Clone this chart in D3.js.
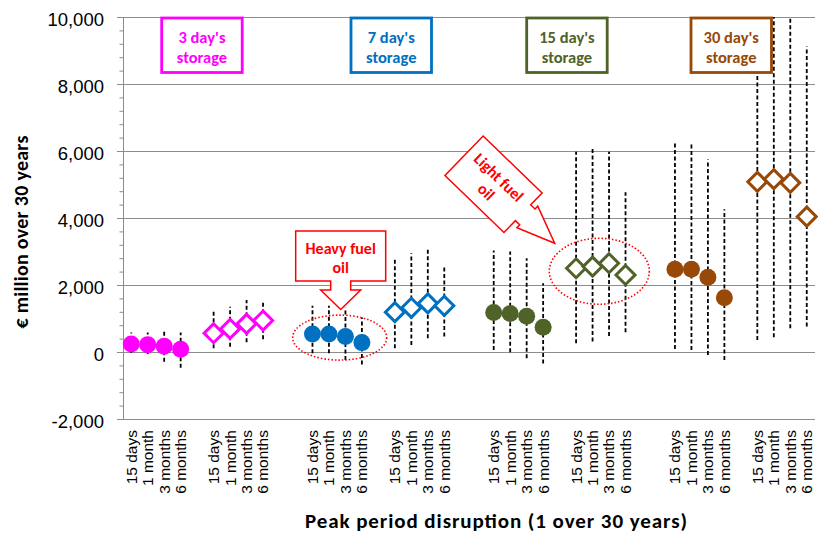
<!DOCTYPE html>
<html>
<head>
<meta charset="utf-8">
<script src="https://cdn.jsdelivr.net/npm/d3@7"></script>
<style>
  body { margin: 0; background: #fff; }
  svg { display: block; font-family: Carlito, Calibri, Lato, sans-serif; }
  .axis text { fill: #000; }
</style>
</head>
<body>
<svg id="chart"></svg>
<script>
// categories as laid out on the original axis (blank slots separate groups)
const categories = [
  "15 days", "1 month", "3 months", "6 months", "",
  "15 days", "1 month", "3 months", "6 months", "", "",
  "15 days", "1 month", "3 months", "6 months", "",
  "15 days", "1 month", "3 months", "6 months", "", "",
  "15 days", "1 month", "3 months", "6 months", "",
  "15 days", "1 month", "3 months", "6 months", "", "",
  "15 days", "1 month", "3 months", "6 months", "",
  "15 days", "1 month", "3 months", "6 months",
];

// one entry per group of four points
const storageDays = ["3", "3", "7", "7", "15", "15", "30", "30"];
const fuelTypes = ["heavy", "light", "heavy", "light", "heavy", "light", "heavy", "light"];

// central estimate, € million over 30 years (non-blank categories in order)
const centralValues = [
  240, 220, 170, 80,
  560, 690, 840, 940,
  540, 540, 460, 280,
  1190, 1320, 1450, 1380,
  1180, 1150, 1070, 740,
  2500, 2550, 2650, 2300,
  2470, 2470, 2230, 1620,
  5080, 5160, 5050, 4040,
];
const lowValues = [
  -30, -60, -290, -470,
  110, 160, 290, 380,
  -40, -40, -240, -370,
  110, 210, 410, 460,
  60, -10, -190, -340,
  260, 310, 480, 590,
  90, 60, -90, -240,
  360, 440, 710, 760,
];
const highValues = [
  580, 580, 630, 580,
  1250, 1350, 1550, 1480,
  1380, 1380, 1320, 1030,
  2830, 2950, 3050, 2580,
  3030, 3000, 2800, 2050,
  5980, 6110, 5980, 4770,
  6230, 6230, 5750, 4260,
  10500, 10500, 10500, 9120,
];

const yTicks = [-2000, 0, 2000, 4000, 6000, 8000, 10000];
const storageLabels = ["3 day's", "7 day's", "15 day's", "30 day's"];
const storageColors = { "3": "#FF00FF", "7": "#0070C0", "15": "#4F6228", "30": "#984807" };

// Graph Dimensions
const totalWidth = 818;
const totalHeight = 539;
const margin = { top: 17, right: 3, bottom: 120, left: 123 };
const graphWidth = totalWidth - margin.left - margin.right;
const graphHeight = totalHeight - margin.top - margin.bottom;

// pair each value with its slot on the category axis
const slots = categories.map((c, i) => i).filter((i) => categories[i] !== "");
const points = slots.map((slot, k) => ({
  slot,
  group: Math.floor(k / 4),
  value: centralValues[k],
  low: lowValues[k],
  high: highValues[k],
}));

const xScale = d3.scaleBand().domain(d3.range(categories.length)).range([0, graphWidth]);
const yScale = d3.scaleLinear().domain([yTicks[0], yTicks[yTicks.length - 1]]).range([graphHeight, 0]);
const cx = (slot) => xScale(slot) + xScale.bandwidth() / 2;
const groupCenter = (g) => (cx(slots[g * 4]) + cx(slots[g * 4 + 3])) / 2;
const numFormat = d3.format(",");

const svg = d3.select("#chart").attr("width", totalWidth).attr("height", totalHeight);
const g = svg.append("g").attr("transform", `translate(${margin.left},${margin.top})`);

g.append("defs").append("clipPath").attr("id", "plotClip")
  .append("rect").attr("width", graphWidth).attr("height", graphHeight);

// gridlines
g.append("g")
  .call(d3.axisLeft(yScale).tickValues(yTicks).tickSize(-graphWidth).tickFormat(""))
  .call((s) => s.select(".domain").remove())
  .selectAll("line").attr("stroke", "#8c8c8c");

// minor ticks
g.append("g")
  .call(d3.axisLeft(yScale).tickValues(d3.range(yTicks[0], yTicks[yTicks.length - 1], 400)).tickSize(3.5).tickFormat(""))
  .call((s) => s.select(".domain").remove())
  .selectAll("line").attr("stroke", "#8c8c8c");

// y axis
g.append("g")
  .attr("class", "axis")
  .call(d3.axisLeft(yScale).tickValues(yTicks).tickSize(6).tickPadding(13)
    .tickFormat((d) => numFormat(d).replace("\u2212", "-")))
  .call((s) => s.select(".domain").attr("stroke", "#8c8c8c"))
  .call((s) => s.selectAll("line").attr("stroke", "#8c8c8c"))
  .selectAll("text").attr("font-size", 18.5).attr("dy", "0.45em");

// category axis
g.append("g")
  .attr("class", "axis")
  .attr("transform", `translate(0,${graphHeight})`)
  .call(d3.axisBottom(xScale).tickSize(0).tickFormat((i) => categories[i]))
  .call((s) => s.select(".domain").remove())
  .selectAll("text")
  .attr("font-size", 15.5)
  .attr("transform", "rotate(-90)")
  .attr("text-anchor", "end")
  .attr("x", -11)
  .attr("y", 0)
  .attr("dy", "0.35em");

// axis titles
svg.append("text")
  .attr("x", 496).attr("y", 528)
  .attr("text-anchor", "middle").attr("font-weight", "bold").attr("font-size", 21)
  .attr("textLength", 382).attr("lengthAdjust", "spacing")
  .text("Peak period disruption (1 over 30 years)");
svg.append("text")
  .attr("transform", `translate(28,232) rotate(-90)`)
  .attr("text-anchor", "middle").attr("font-weight", "bold").attr("font-size", 20)
  .attr("textLength", 193).attr("lengthAdjust", "spacing")
  .text("€ million over 30 years");

// error bars
g.append("g").attr("clip-path", "url(#plotClip)")
  .selectAll("line").data(points).enter().append("line")
  .attr("x1", (d) => cx(d.slot)).attr("x2", (d) => cx(d.slot))
  .attr("y1", (d) => yScale(d.low)).attr("y2", (d) => yScale(d.high))
  .attr("stroke", "#000").attr("stroke-width", 1.8).attr("stroke-dasharray", "4,2.5");

// markers
const markers = g.append("g");
markers.selectAll("circle").data(points.filter((d) => fuelTypes[d.group] === "heavy"))
  .enter().append("circle")
  .attr("cx", (d) => cx(d.slot)).attr("cy", (d) => yScale(d.value)).attr("r", 8.5)
  .attr("fill", (d) => storageColors[storageDays[d.group]]);
const dia = 9.5;
markers.selectAll("path").data(points.filter((d) => fuelTypes[d.group] === "light"))
  .enter().append("path")
  .attr("d", `M0,${-dia}L${dia},0L0,${dia}L${-dia},0Z`)
  .attr("transform", (d) => `translate(${cx(d.slot)},${yScale(d.value)})`)
  .attr("fill", "#fff").attr("stroke-width", 3)
  .attr("stroke", (d) => storageColors[storageDays[d.group]]);

// storage boxes
const boxLeft = [38.7, 228, 403.7, 568];
const boxes = g.append("g");
storageLabels.forEach((label, i) => {
  const color = storageColors[storageDays[i * 2]];
  const b = boxes.append("g").attr("transform", `translate(${boxLeft[i]},1)`);
  b.append("rect").attr("width", 80.5).attr("height", 54.5)
    .attr("fill", "#fff").attr("stroke", color).attr("stroke-width", 2.8);
  b.append("text").attr("x", 40.25).attr("y", 24.5).attr("text-anchor", "middle")
    .attr("font-size", 16.5).attr("font-weight", "bold").attr("fill", color).text(label);
  b.append("text").attr("x", 40.25).attr("y", 44.5).attr("text-anchor", "middle")
    .attr("font-size", 16.5).attr("font-weight", "bold").attr("fill", color).text("storage");
});

// dotted ellipses
const ellipses = g.append("g");
ellipses.append("ellipse")
  .attr("cx", groupCenter(2) + 2.5).attr("cy", yScale(430)).attr("rx", 47).attr("ry", 22.5);
ellipses.append("ellipse")
  .attr("cx", groupCenter(5) - 1.5).attr("cy", yScale(2410)).attr("rx", 50).attr("ry", 33);
ellipses.selectAll("ellipse")
  .attr("fill", "none").attr("stroke", "#FF0000").attr("stroke-width", 1.6).attr("stroke-dasharray", "1.5,2");

// callout: heavy fuel oil (down arrow)
const hx = groupCenter(2) + 3.5;
const hy = yScale(1270);
const heavyCallout = g.append("g").attr("transform", `translate(${hx},${hy})`);
heavyCallout.append("path")
  .attr("d", "M-45,-78.5H45V-28.5H10V-19.5H20L0,0L-20,-19.5H-10V-28.5H-45Z")
  .attr("fill", "#fff").attr("stroke", "#FF0000").attr("stroke-width", 1.5);
heavyCallout.append("text").attr("y", -55.5).attr("text-anchor", "middle")
  .attr("font-size", 16).attr("font-weight", "bold").attr("fill", "#FF0000").text("Heavy fuel");
heavyCallout.append("text").attr("y", -36).attr("text-anchor", "middle")
  .attr("font-size", 16).attr("font-weight", "bold").attr("fill", "#FF0000").text("oil");

// callout: light fuel oil (rotated arrow)
const lx = xScale(25) + xScale.bandwidth() * 1.2;
const ly = yScale(3245);
const lightCallout = g.append("g").attr("transform", `translate(${lx},${ly}) rotate(44)`);
lightCallout.append("path")
  .attr("d", "M-126,-27.5H-44V-11H-38V-15L0,0L-38,15V11H-44V27.5H-126Z")
  .attr("fill", "#fff").attr("stroke", "#FF0000").attr("stroke-width", 1.5);
lightCallout.append("text").attr("x", -86).attr("y", -3).attr("text-anchor", "middle")
  .attr("font-size", 16).attr("font-weight", "bold").attr("fill", "#FF0000").text("Light fuel");
lightCallout.append("text").attr("x", -85).attr("y", 16).attr("text-anchor", "middle")
  .attr("font-size", 16).attr("font-weight", "bold").attr("fill", "#FF0000").text("oil");
</script>
</body>
</html>
